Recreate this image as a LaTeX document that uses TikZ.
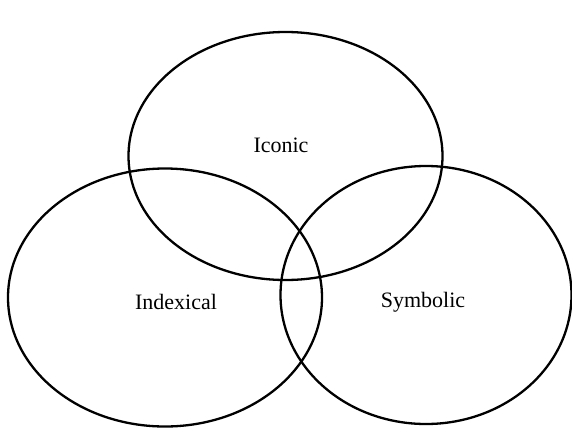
\documentclass[tikz,border=0pt]{standalone}
\usepackage{fontspec}
\setmainfont{Liberation Serif}
\usepackage{tikz}
\usetikzlibrary{shapes.geometric}

\begin{document}
\begin{tikzpicture}[
  x=1pt, y=-1pt,
  every node/.style={font=\fontsize{22}{26}\selectfont},
  ring/.style={draw=black, ellipse, line width=2.3pt, inner sep=0pt},
  tag/.style={inner sep=1pt, text=black}
]
  \useasboundingbox (0,0) rectangle (572,431);

  % three overlapping ellipses
  \node[ring, minimum width=314pt, minimum height=248pt] (iconic) at (285.5,156) {};
  \node[ring, minimum width=314pt, minimum height=258pt] (indexical) at (165,297.5) {};
  \node[ring, minimum width=291pt, minimum height=258pt] (symbolic) at (426,295) {};

  \node[tag] (iconicLab) at (281,145) {Iconic};
  \node[tag] (indexicalLab) at (176,302) {Indexical};
  \node[tag] (symbolicLab) at (423,302) {Symbolic};
\end{tikzpicture}
\end{document}
